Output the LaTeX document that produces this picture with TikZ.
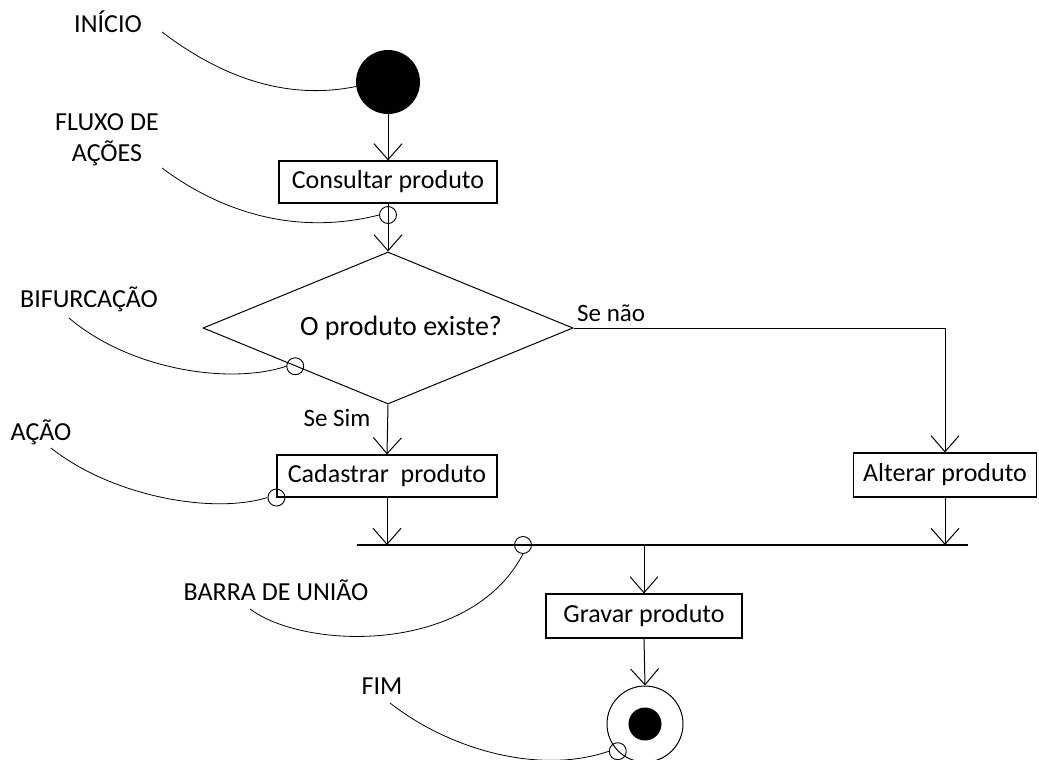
\documentclass[tikz,border=0pt]{standalone}
\usepackage{fontspec}
\setmainfont{Carlito}
\usetikzlibrary{arrows.meta,shapes.geometric,calc}
\begin{document}
\begin{tikzpicture}[x=1pt,y=-1pt,
  flow/.style={-{Straight Barb[length=16pt,width=28pt]}, line width=1pt},
  actbox/.style={draw, line width=1.1pt, inner sep=0pt, font=\fontsize{26}{29}\selectfont},
  decbox/.style={draw, diamond, line width=1pt, inner sep=0pt, minimum width=370pt, minimum height=152pt, shape aspect=2.43},
  lbl/.style={font=\fontsize{26}{31}\selectfont, align=center, inner sep=0pt},
  guard/.style={font=\fontsize{25}{28}\selectfont, inner sep=0pt},
  lead/.style={line width=0.8pt},
  pin/.style={draw, circle, minimum size=17pt, inner sep=0pt, line width=0.9pt}]
\useasboundingbox (0,0) rectangle (1039,760);

% start / end
\node[circle, fill=black, minimum size=64pt, inner sep=0pt] (start) at (388,82) {};
\node[draw, circle, minimum size=76pt, inner sep=0pt, line width=1pt] (endc) at (645,724) {};
\node[circle, fill=black, minimum size=33pt, inner sep=0pt] (endin) at (645,724) {};

% actions
\node[actbox, minimum width=218pt, minimum height=42pt] (cons) at (388,182) {Consultar produto};
\node[decbox] (dia) at (388,328) {};
\node[font=\fontsize{28}{31}\selectfont, inner sep=0pt] (q) at (401,328) {O produto existe?};
\node[actbox, minimum width=220pt, minimum height=42pt] (cad) at (387,476) {Cadastrar\ \ produto};
\node[actbox, minimum width=183pt, minimum height=44pt] (alt) at (945,475) {Alterar produto};
\node[actbox, minimum width=196pt, minimum height=44pt] (grav) at (644,616) {Gravar produto};

% join bar
\coordinate (barL) at (357,545);
\coordinate (barR) at (968,545);
\draw[line width=1.1pt] (barL) -- (barR);

% guards
\node[guard, anchor=west] (gno) at (577,313) {Se não};
\node[guard] (gyes) at (337,418) {Se Sim};

% flows
\draw[flow] (start.south) -- (cons.north);
\draw[flow] (cons.south) -- (dia.north);
\draw[flow] (dia.south) -- (cad.north);
\draw[flow] (dia.east) -| (alt.north);
\draw[flow] (cad.south) -- (cad.south |- barL);
\draw[flow] (alt.south) -- (alt.south |- barL);
\draw[flow] (grav.north |- barL) -- (grav.north);
\draw[flow] (grav.south) -- (endc.north);

% pins
\node[pin] (p1) at (388,215) {};
\node[pin] (p2) at ($(dia.west)!0.5!(dia.south)$) {};
\node[pin] (p3) at (cad.south west) {};
\node[pin] (p4) at (523,545) {};
\node[pin] (p5) at (endc.south west) {};

% callout labels
\node[lbl] (linicio) at (108,22) {INÍCIO};
\node[lbl] (lfluxo) at (107,140) {FLUXO DE\\AÇÕES};
\node[lbl] (lbif) at (89,299) {BIFURCAÇÃO};
\node[lbl] (lacao) at (41,432) {AÇÃO};
\node[lbl] (lbarra) at (276,590) {BARRA DE UNIÃO};
\node[lbl] (lfim) at (382,686) {FIM};

% leader curve starts
\coordinate (sinicio) at (162,32);
\coordinate (sfluxo) at (162,168);
\coordinate (sbif) at (69,318);
\coordinate (sacao) at (51,448);
\coordinate (sbarra) at (250,609);
\coordinate (sfim) at (390,703);

% leader curves
\draw[lead] (sinicio) .. controls (225,80) and (290,100) .. (start.188);
\draw[lead] (sfluxo) .. controls (225,215) and (300,235) .. (p1.west);
\draw[lead] (sbif) .. controls (130,370) and (230,385) .. (p2.west);
\draw[lead] (sacao) .. controls (110,495) and (210,515) .. (p3.west);
\draw[lead] (sbarra) .. controls (305,650) and (470,655) .. (p4.south);
\draw[lead] (sfim) .. controls (450,750) and (540,775) .. (p5.west);
\end{tikzpicture}
\end{document}
